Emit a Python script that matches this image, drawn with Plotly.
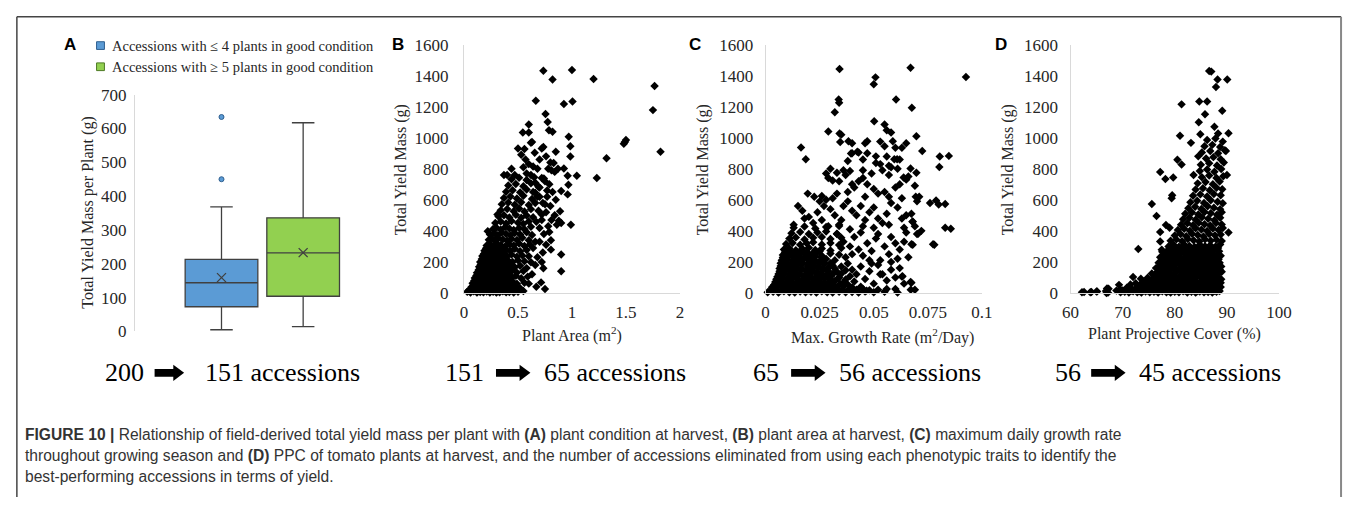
import plotly.graph_objects as go

W, H = 1357, 507

# ---------------- Panel A: yield per plant by plant condition ----------------
group_labels = ["Accessions with ≤ 4 plants in good condition",
                "Accessions with ≥ 5 plants in good condition"]
box_fill = ["#5B9BD5", "#92D050"]
box_edge = ["#2F5F8F", "#4E7A26"]
q1 = [73, 104]
median = [144, 232]
q3 = [213, 336]
lower_whisker = [5, 14]
upper_whisker = [368, 617]
group_mean = [159, 233]
outlier_group = [0, 0]
outlier_yield = [450, 634]
yield_ticks_a = [0, 100, 200, 300, 400, 500, 600, 700]

# ---------------- Panel B: plant area (m2) vs total yield mass (g) ----------------
B_PAIRS = [
    (0.735, 1432), (1.0, 1437), (0.82, 1375), (1.2, 1379), (1.765, 1333), (0.665, 1238),
    (1.005, 1234), (0.925, 1218), (0.755, 1153), (1.75, 1178), (0.775, 1102), (0.787, 1048),
    (0.82, 1038), (0.6, 1085), (0.6, 1034), (0.545, 1034), (0.63, 972), (0.62, 968),
    (0.56, 928), (0.655, 903), (0.72, 930), (0.735, 940), (0.85, 910), (0.83, 837),
    (0.8, 841), (0.925, 802), (0.97, 1007), (0.985, 945), (0.985, 879), (1.045, 755),
    (1.23, 740), (1.32, 868), (1.49, 972), (1.5, 985), (1.48, 961), (1.82, 910),
    (0.96, 755), (0.967, 697), (0.96, 635), (0.99, 440), (0.9, 657), (0.89, 527),
    (0.878, 465), (0.9, 450), (0.9, 248), (0.9, 140), (0.735, 159), (0.714, 68),
    (0.75, 25), (0.805, 339), (0.805, 279), (0.79, 393),
    (0.5, 930), (0.53, 890), (0.57, 860), (0.6, 830), (0.64, 815), (0.68, 800),
    (0.7, 860), (0.76, 880), (0.78, 800), (0.81, 790), (0.84, 780), (0.87, 800),
    (0.72, 740), (0.75, 720), (0.79, 700), (0.82, 650), (0.85, 600), (0.77, 620),
    (0.73, 580), (0.8, 560), (0.84, 500), (0.86, 440), (0.81, 470), (0.76, 520),
    (0.72, 470), (0.78, 430), (0.74, 380), (0.7, 330), (0.76, 310), (0.73, 260),
    (0.68, 230), (0.66, 180), (0.72, 200), (0.63, 120), (0.6, 60), (0.67, 40),
    (0.47, 760), (0.44, 800), (0.4, 760), (0.37, 760), (0.55, 810), (0.58, 770),
    (0.62, 760), (0.66, 710), (0.7, 680), (0.64, 650), (0.68, 620), (0.22, 397),
    (0.31, 506),
    (0.03, 8), (0.06, 3), (0.09, 10), (0.12, 2), (0.15, 6), (0.18, 4), (0.21, 9),
    (0.24, 3), (0.27, 7), (0.3, 2), (0.33, 5), (0.36, 10), (0.39, 4), (0.42, 6),
    (0.46, 3), (0.5, 8), (0.55, 12),
    (0.07, 38), (0.1, 30), (0.13, 41), (0.16, 33), (0.19, 28), (0.22, 40), (0.25, 35),
    (0.28, 30), (0.31, 42), (0.34, 36), (0.37, 29), (0.4, 39), (0.43, 33), (0.47, 44),
    (0.52, 30),
    (0.08, 62), (0.11, 70), (0.14, 66), (0.17, 58), (0.2, 72), (0.23, 64), (0.26, 60),
    (0.29, 71), (0.32, 65), (0.35, 59), (0.38, 68), (0.41, 62), (0.45, 74), (0.49, 60),
    (0.56, 66),
    (0.1, 96), (0.13, 104), (0.16, 92), (0.19, 101), (0.22, 108), (0.25, 95), (0.28, 103),
    (0.31, 98), (0.34, 107), (0.37, 93), (0.4, 102), (0.44, 97), (0.48, 110), (0.53, 94),
    (0.59, 105),
    (0.12, 130), (0.15, 138), (0.18, 127), (0.21, 141), (0.24, 133), (0.27, 128),
    (0.3, 140), (0.33, 132), (0.36, 137), (0.4, 126), (0.44, 139), (0.49, 131), (0.55, 142),
    (0.14, 168), (0.17, 160), (0.2, 174), (0.23, 165), (0.26, 172), (0.29, 161),
    (0.32, 170), (0.35, 176), (0.39, 163), (0.43, 171), (0.47, 166), (0.52, 175), (0.58, 160),
    (0.15, 200), (0.18, 209), (0.21, 198), (0.24, 212), (0.27, 203), (0.3, 196),
    (0.33, 210), (0.37, 201), (0.41, 207), (0.45, 199), (0.5, 211), (0.56, 204), (0.62, 198),
    (0.17, 238), (0.2, 244), (0.23, 233), (0.26, 247), (0.29, 240), (0.32, 231),
    (0.36, 243), (0.4, 236), (0.44, 248), (0.49, 234), (0.54, 242), (0.6, 237),
    (0.19, 272), (0.22, 280), (0.25, 268), (0.28, 283), (0.31, 274), (0.35, 266),
    (0.39, 279), (0.43, 271), (0.47, 285), (0.52, 268), (0.58, 277), (0.64, 290),
    (0.21, 306), (0.24, 315), (0.27, 302), (0.3, 318), (0.34, 309), (0.38, 300),
    (0.42, 314), (0.46, 305), (0.51, 319), (0.56, 303), (0.61, 312),
    (0.23, 342), (0.26, 350), (0.29, 338), (0.32, 353), (0.36, 345), (0.4, 336),
    (0.44, 349), (0.49, 341), (0.54, 356), (0.6, 340), (0.66, 330),
    (0.24, 377), (0.28, 385), (0.31, 372), (0.35, 389), (0.39, 380), (0.43, 371),
    (0.47, 386), (0.52, 376), (0.58, 391), (0.63, 373),
    (0.27, 412), (0.3, 420), (0.34, 408), (0.38, 424), (0.42, 415), (0.46, 405),
    (0.51, 419), (0.56, 410), (0.62, 426), (0.7, 418),
    (0.29, 450), (0.34, 460), (0.39, 447), (0.44, 463), (0.5, 452), (0.55, 445),
    (0.6, 461), (0.67, 458),
    (0.32, 492), (0.37, 500), (0.42, 486), (0.48, 503), (0.53, 484), (0.58, 499),
    (0.64, 488), (0.72, 505),
    (0.34, 532), (0.4, 541), (0.46, 527), (0.51, 544), (0.56, 525), (0.62, 540), (0.69, 529),
    (0.35, 571), (0.41, 582), (0.47, 568), (0.53, 585), (0.6, 566), (0.66, 580), (0.75, 572),
    (0.37, 612), (0.43, 622), (0.49, 608), (0.55, 626), (0.63, 605), (0.7, 620),
    (0.39, 652), (0.45, 662), (0.52, 648), (0.58, 667), (0.66, 645), (0.77, 660),
    (0.41, 692), (0.48, 702), (0.55, 688), (0.62, 706), (0.69, 684),
    (0.44, 733), (0.51, 742), (0.58, 728), (0.65, 746), (0.74, 738),
]
# densely packed low-yield accessions of panel B
B_CORE = [
    (0.045, 18), (0.075, 20), (0.105, 16), (0.135, 22), (0.165, 17), (0.195, 21),
    (0.225, 15), (0.255, 19), (0.285, 23), (0.315, 17), (0.345, 20), (0.375, 16),
    (0.405, 22), (0.435, 18), (0.48, 20),
    (0.085, 48), (0.115, 52), (0.145, 47), (0.175, 54), (0.205, 49), (0.235, 45),
    (0.265, 53), (0.295, 50), (0.325, 46), (0.355, 52), (0.385, 48), (0.415, 55), (0.445, 47),
    (0.095, 78), (0.125, 83), (0.155, 76), (0.185, 84), (0.215, 80), (0.245, 75),
    (0.275, 85), (0.305, 79), (0.335, 82), (0.365, 77), (0.395, 84), (0.425, 78),
    (0.115, 113), (0.145, 118), (0.175, 111), (0.205, 120), (0.235, 115), (0.265, 110),
    (0.295, 119), (0.325, 114), (0.355, 117), (0.385, 112), (0.42, 118),
    (0.135, 148), (0.165, 153), (0.195, 146), (0.225, 155), (0.255, 150), (0.285, 145),
    (0.315, 154), (0.345, 149), (0.375, 152), (0.41, 147),
    (0.155, 183), (0.185, 188), (0.215, 181), (0.245, 190), (0.275, 185), (0.305, 180),
    (0.335, 189), (0.365, 184), (0.395, 187),
    (0.165, 218), (0.195, 223), (0.225, 216), (0.255, 225), (0.285, 220), (0.315, 215),
    (0.345, 224), (0.38, 219),
    (0.185, 253), (0.215, 258), (0.245, 251), (0.275, 260), (0.305, 255), (0.335, 250),
    (0.37, 259),
    (0.205, 288), (0.235, 293), (0.265, 286), (0.295, 295), (0.325, 290), (0.36, 285),
]

# ---------------- Panel C: max. growth rate (m2/day) vs total yield mass (g) ----------------
C_PAIRS = [
    (0.0342, 1443), (0.067, 1451), (0.0508, 1389), (0.0926, 1391), (0.05, 1344),
    (0.0603, 1247), (0.0676, 1193), (0.0338, 1247), (0.034, 1226), (0.032, 1164),
    (0.0502, 1106), (0.029, 1040), (0.0342, 1027), (0.055, 1085), (0.056, 1048),
    (0.058, 1034), (0.0697, 1009), (0.0588, 978), (0.0383, 978), (0.0345, 972),
    (0.047, 978), (0.0164, 937), (0.0186, 862), (0.0424, 910), (0.0395, 899),
    (0.056, 879), (0.051, 837), (0.0724, 914), (0.0805, 879), (0.0847, 883),
    (0.0803, 812), (0.067, 802), (0.0595, 862), (0.0608, 862), (0.0697, 775),
    (0.0638, 744), (0.0694, 620), (0.0788, 595), (0.083, 573), (0.0856, 413),
    (0.0774, 314), (0.0705, 382), (0.0674, 314), (0.0674, 66), (0.0671, 21),
    (0.0633, 107), (0.06, 25), (0.056, 25), (0.0679, 459), (0.0674, 510),
    (0.052, 21), (0.0467, 15),
    (0.035, 1020), (0.04, 965), (0.046, 965), (0.053, 975), (0.055, 945), (0.04, 900),
    (0.043, 905), (0.047, 900), (0.051, 880), (0.045, 860), (0.038, 850), (0.06, 935),
    (0.063, 935), (0.065, 965), (0.062, 860), (0.053, 830), (0.057, 820), (0.058, 810),
    (0.061, 800), (0.036, 790), (0.033, 775), (0.03, 800), (0.028, 770), (0.039, 785),
    (0.0195, 640), (0.0225, 620), (0.026, 625), (0.028, 600), (0.029, 740), (0.031, 725),
    (0.034, 720), (0.037, 760), (0.04, 700), (0.041, 680), (0.043, 720), (0.045, 740),
    (0.047, 700), (0.05, 670), (0.052, 640), (0.055, 650), (0.057, 620), (0.06, 680),
    (0.062, 700), (0.065, 730), (0.066, 750), (0.069, 690), (0.071, 620), (0.063, 610),
    (0.046, 620), (0.038, 650), (0.033, 640), (0.031, 610), (0.025, 590), (0.049, 770),
    (0.057, 760), (0.054, 790), (0.045, 790),
    (0.015, 560), (0.017, 530), (0.02, 490), (0.022, 450), (0.024, 520), (0.027, 560),
    (0.03, 540), (0.032, 500), (0.035, 470), (0.036, 560), (0.038, 590), (0.04, 530),
    (0.042, 500), (0.044, 560), (0.046, 470), (0.048, 520), (0.05, 550), (0.052, 480),
    (0.054, 450), (0.056, 510), (0.058, 580), (0.061, 550), (0.063, 480), (0.065, 500),
    (0.068, 460), (0.07, 590), (0.069, 430), (0.072, 400), (0.076, 580), (0.08, 570),
    (0.083, 420), (0.064, 420), (0.057, 440), (0.05, 420), (0.045, 430), (0.039, 410),
    (0.034, 440), (0.029, 430), (0.026, 470), (0.018, 480), (0.013, 440),
    (0.033, 380), (0.036, 330), (0.039, 300), (0.041, 360), (0.043, 280), (0.045, 240),
    (0.047, 320), (0.049, 270), (0.051, 350), (0.053, 210), (0.055, 300), (0.057, 250),
    (0.06, 320), (0.062, 280), (0.064, 330), (0.066, 230), (0.068, 310), (0.07, 380),
    (0.078, 310), (0.044, 390), (0.048, 210), (0.052, 380), (0.058, 360), (0.061, 220),
    (0.065, 390), (0.04, 250), (0.037, 230),
    (0.038, 190), (0.04, 150), (0.042, 120), (0.044, 170), (0.046, 90), (0.048, 140),
    (0.05, 60), (0.052, 180), (0.054, 120), (0.056, 80), (0.058, 150), (0.06, 100),
    (0.062, 160), (0.064, 60), (0.067, 70), (0.069, 20), (0.063, 105), (0.053, 120),
    (0.058, 200), (0.049, 190),
    (0.001, 4), (0.0035, 8), (0.006, 2), (0.0085, 10), (0.011, 5), (0.0135, 3),
    (0.016, 9), (0.0185, 4), (0.021, 7), (0.0235, 2), (0.026, 10), (0.0285, 5),
    (0.031, 3), (0.034, 8), (0.037, 4), (0.04, 6), (0.043, 2), (0.046, 9), (0.05, 4),
    (0.055, 7), (0.061, 3),
    (0.003, 36), (0.0055, 42), (0.008, 33), (0.0105, 40), (0.013, 35), (0.0155, 44),
    (0.018, 31), (0.0205, 39), (0.023, 46), (0.0255, 34), (0.028, 41), (0.0305, 37),
    (0.033, 30), (0.036, 43), (0.04, 35), (0.044, 40),
    (0.0045, 70), (0.007, 78), (0.0095, 66), (0.012, 75), (0.0145, 69), (0.017, 80),
    (0.0195, 67), (0.022, 74), (0.0245, 79), (0.027, 65), (0.0295, 72), (0.032, 77),
    (0.036, 68), (0.041, 74),
    (0.0055, 104), (0.008, 112), (0.0105, 100), (0.013, 109), (0.0155, 115), (0.018, 102),
    (0.0205, 108), (0.023, 99), (0.0255, 113), (0.028, 105), (0.0305, 110), (0.034, 101),
    (0.039, 107),
    (0.0065, 140), (0.009, 147), (0.0115, 136), (0.014, 144), (0.0165, 151), (0.019, 138),
    (0.0215, 146), (0.024, 135), (0.0265, 149), (0.029, 141), (0.033, 137), (0.037, 146),
    (0.007, 174), (0.0095, 182), (0.012, 170), (0.0145, 179), (0.017, 186), (0.0195, 172),
    (0.022, 180), (0.0245, 169), (0.027, 184), (0.031, 176), (0.035, 171),
    (0.0075, 210), (0.01, 217), (0.0125, 205), (0.015, 214), (0.0175, 221), (0.02, 207),
    (0.0225, 215), (0.025, 204), (0.028, 219), (0.032, 211),
    (0.008, 245), (0.0105, 252), (0.013, 240), (0.0155, 249), (0.018, 256), (0.0205, 242),
    (0.023, 250), (0.026, 239), (0.03, 254), (0.034, 246),
    (0.0085, 280), (0.011, 288), (0.014, 275), (0.017, 285), (0.02, 291), (0.023, 277),
    (0.026, 286), (0.03, 274), (0.035, 289),
    (0.0095, 315), (0.0125, 322), (0.016, 310), (0.019, 320), (0.022, 326), (0.026, 312),
    (0.03, 321), (0.034, 309),
    (0.011, 350), (0.014, 358), (0.018, 345), (0.022, 355), (0.026, 361), (0.03, 347),
    (0.035, 356),
    (0.012, 385), (0.016, 393), (0.02, 380), (0.024, 390), (0.028, 396), (0.033, 382),
    (0.013, 420), (0.018, 428), (0.023, 415), (0.028, 425), (0.034, 431),
]
# densely packed slow-growing accessions of panel C
C_CORE = [
    (0.0025, 20), (0.005, 22), (0.0075, 18), (0.01, 24), (0.0125, 19), (0.015, 21),
    (0.0175, 25), (0.02, 17), (0.0225, 23), (0.025, 20), (0.0275, 18), (0.03, 24),
    (0.0325, 21), (0.0355, 19), (0.0385, 23), (0.042, 20), (0.045, 25), (0.048, 18),
    (0.004, 53), (0.0065, 57), (0.009, 52), (0.0115, 58), (0.014, 55), (0.0165, 51),
    (0.019, 57), (0.0215, 54), (0.024, 59), (0.0265, 52), (0.029, 56), (0.0315, 53),
    (0.0345, 58), (0.038, 54),
    (0.005, 88), (0.0075, 92), (0.01, 86), (0.0125, 94), (0.015, 89), (0.0175, 85),
    (0.02, 93), (0.0225, 90), (0.025, 87), (0.0275, 95), (0.03, 88), (0.0335, 92), (0.037, 86),
    (0.006, 122), (0.0085, 127), (0.011, 121), (0.0135, 129), (0.016, 124), (0.0185, 120),
    (0.021, 128), (0.0235, 123), (0.026, 126), (0.0285, 121), (0.0315, 129), (0.035, 124),
    (0.0065, 158), (0.009, 163), (0.0115, 156), (0.014, 165), (0.0165, 159), (0.019, 155),
    (0.0215, 164), (0.024, 160), (0.0265, 157), (0.029, 163), (0.032, 158),
    (0.007, 192), (0.0095, 197), (0.012, 190), (0.0145, 199), (0.017, 194), (0.0195, 189),
    (0.022, 198), (0.0245, 193), (0.027, 196), (0.03, 191),
    (0.008, 228), (0.0105, 233), (0.013, 226), (0.0155, 235), (0.018, 230), (0.0205, 225),
    (0.023, 234), (0.026, 229),
    (0.009, 262), (0.0115, 268), (0.014, 260), (0.0165, 270), (0.019, 264), (0.022, 259),
    (0.025, 268),
]

# ---------------- Panel D: plant projective cover (%) vs total yield mass (g) ----------------
D_PAIRS = [
    (86.6, 1430), (87.0, 1426), (88.2, 1375), (90.06, 1375), (87.9, 1327), (81.3, 1215),
    (84.7, 1234), (86.2, 1234), (85.8, 1151), (89.1, 1174), (84.6, 1100), (81.0, 1013),
    (84.9, 1023), (87.6, 1071), (88.3, 1027), (90.3, 1029), (89.8, 914), (90.0, 760),
    (90.3, 389), (83.1, 967), (80.5, 858), (81.3, 827), (77.2, 779), (78.2, 734),
    (79.7, 744), (79.5, 630), (79.4, 610), (75.6, 573), (77.2, 393), (76.5, 496),
    (73.0, 283), (72.0, 103), (69.3, 52), (67.3, 27), (66.9, 0), (62.6, 6), (64.0, 6),
    (65.1, 10), (77.2, 331), (78.3, 438), (79.0, 420), (77.5, 279),
    (62.2, 5), (63.8, 4), (65.0, 9), (66.8, 12), (67.2, 2), (68.8, 15), (69.6, 4),
    (70.4, 8), (71.2, 3), (72.0, 10), (72.8, 5), (73.6, 2), (74.4, 9), (75.2, 4),
    (76.0, 7), (76.8, 3), (77.6, 10), (78.4, 5), (79.2, 2), (80.0, 8), (80.8, 4),
    (81.6, 11), (82.4, 3), (83.2, 7), (84.0, 2), (84.8, 9), (85.6, 4), (86.4, 6),
    (87.2, 3), (88.0, 8), (88.6, 12),
    (67.0, 28), (69.5, 24), (70.8, 33), (71.8, 26), (72.7, 35), (73.6, 29), (74.5, 22),
    (75.4, 34), (76.3, 27), (77.2, 31), (78.1, 24), (79.0, 36), (79.9, 28), (80.8, 25),
    (81.7, 34), (82.6, 27), (83.5, 32), (84.4, 23), (85.3, 30), (86.2, 35), (87.1, 26),
    (88.0, 31), (88.8, 38),
    (71.5, 55), (72.5, 62), (73.5, 58), (74.4, 66), (75.3, 54), (76.2, 63), (77.1, 57),
    (78.0, 67), (78.9, 55), (79.8, 61), (80.7, 68), (81.6, 56), (82.5, 64), (83.4, 59),
    (84.3, 52), (85.2, 66), (86.1, 58), (87.0, 63), (87.9, 55), (88.8, 65),
    (73.5, 92), (74.8, 98), (75.8, 90), (76.7, 100), (77.6, 94), (78.5, 101), (79.4, 89),
    (80.3, 97), (81.2, 104), (82.1, 91), (83.0, 99), (83.9, 95), (84.8, 102), (85.7, 90),
    (86.6, 98), (87.5, 93), (88.4, 100), (88.9, 88),
    (75.6, 125), (76.6, 133), (77.5, 128), (78.4, 136), (79.3, 124), (80.2, 131),
    (81.1, 138), (82.0, 126), (82.9, 134), (83.8, 129), (84.7, 122), (85.6, 135),
    (86.5, 127), (87.4, 132), (88.3, 124), (89.0, 137),
    (76.4, 160), (77.3, 168), (78.2, 158), (79.1, 170), (80.0, 163), (80.9, 155),
    (81.8, 172), (82.7, 161), (83.6, 167), (84.5, 158), (85.4, 170), (86.3, 162),
    (87.2, 166), (88.1, 157), (88.9, 171),
    (76.9, 195), (77.8, 204), (78.7, 193), (79.6, 206), (80.5, 198), (81.4, 191),
    (82.3, 205), (83.2, 196), (84.1, 202), (85.0, 192), (85.9, 207), (86.8, 199),
    (87.7, 203), (88.6, 194),
    (77.2, 230), (78.1, 238), (79.0, 228), (79.9, 241), (80.8, 233), (81.7, 226),
    (82.6, 240), (83.5, 231), (84.4, 237), (85.3, 227), (86.2, 242), (87.1, 234),
    (88.0, 229), (88.8, 240),
    (77.6, 266), (78.6, 274), (79.6, 262), (80.6, 277), (81.6, 268), (82.6, 261),
    (83.6, 275), (84.6, 266), (85.6, 272), (86.6, 263), (87.6, 278), (88.5, 269),
    (78.8, 300), (79.8, 309), (80.8, 297), (81.8, 312), (82.8, 303), (83.8, 296),
    (84.8, 310), (85.8, 301), (86.8, 307), (87.8, 298), (88.7, 312),
    (79.2, 336), (80.3, 345), (81.4, 333), (82.5, 348), (83.6, 339), (84.7, 331),
    (85.8, 346), (86.9, 337), (88.0, 343), (89.0, 334),
    (80.0, 370), (81.1, 379), (82.2, 366), (83.3, 382), (84.4, 373), (85.5, 364),
    (86.6, 380), (87.7, 371), (88.8, 377),
    (80.6, 405), (81.8, 414), (82.9, 401), (84.0, 417), (85.1, 408), (86.2, 399),
    (87.3, 415), (88.4, 406), (89.2, 418),
    (81.2, 440), (82.4, 449), (83.5, 436), (84.6, 452), (85.7, 443), (86.8, 434),
    (87.9, 450), (89.0, 441),
    (81.6, 475), (82.8, 484), (84.0, 471), (85.2, 487), (86.4, 478), (87.6, 469), (88.7, 485),
    (82.0, 510), (83.3, 519), (84.5, 506), (85.7, 522), (86.9, 513), (88.1, 504), (89.0, 520),
    (82.6, 546), (83.9, 555), (85.1, 541), (86.3, 558), (87.5, 549), (88.7, 540),
    (83.0, 585), (84.3, 594), (85.6, 580), (86.9, 597), (88.2, 588), (89.2, 578),
    (83.5, 626), (84.9, 635), (86.2, 621), (87.5, 638), (88.8, 629),
    (84.0, 666), (85.4, 675), (86.7, 661), (88.0, 678), (89.1, 668),
    (84.4, 706), (85.9, 715), (87.3, 701), (88.6, 718),
    (83.6, 760), (85.2, 745), (86.6, 756), (88.0, 741), (89.3, 752),
    (84.8, 786), (86.2, 795), (87.6, 781), (88.9, 798),
    (85.0, 826), (86.6, 835), (88.1, 821), (89.4, 840),
    (84.5, 880), (86.0, 866), (87.4, 875), (88.8, 862),
    (85.2, 905), (86.8, 914), (88.3, 900), (89.6, 920),
    (85.7, 945), (87.2, 954), (88.7, 940),
    (86.2, 985), (87.8, 995), (89.2, 975),
]
# densely packed low-yield accessions of panel D
D_CORE = [
    (70.0, 16), (71.6, 14), (72.4, 18), (73.2, 13), (74.0, 17), (74.8, 15), (75.6, 19),
    (76.4, 14), (77.2, 16), (78.0, 18), (78.8, 13), (79.6, 17), (80.4, 15), (81.2, 19),
    (82.0, 14), (82.8, 16), (83.6, 18), (84.4, 13), (85.2, 17), (86.0, 15), (86.8, 19),
    (87.6, 14), (88.4, 17),
    (73.0, 44), (74.0, 47), (74.9, 42), (75.8, 48), (76.7, 45), (77.6, 41), (78.5, 47),
    (79.4, 44), (80.3, 49), (81.2, 42), (82.1, 46), (83.0, 43), (83.9, 48), (84.8, 44),
    (85.7, 41), (86.6, 47), (87.5, 43), (88.4, 46),
    (74.0, 73), (75.0, 78), (76.0, 72), (76.9, 79), (77.8, 74), (78.7, 71), (79.6, 77),
    (80.5, 75), (81.4, 80), (82.3, 72), (83.2, 78), (84.1, 74), (85.0, 71), (85.9, 77),
    (86.8, 73), (87.7, 79), (88.5, 75),
    (76.0, 110), (77.0, 114), (78.0, 109), (79.0, 116), (80.0, 111), (81.0, 108),
    (82.0, 115), (83.0, 112), (84.0, 117), (85.0, 109), (86.0, 114), (87.0, 110), (88.0, 116),
    (77.0, 146), (78.0, 150), (79.0, 144), (80.0, 152), (81.0, 147), (82.0, 143),
    (83.0, 151), (84.0, 148), (85.0, 145), (86.0, 150), (87.0, 144), (88.0, 152), (88.7, 147),
    (77.3, 180), (78.2, 185), (79.1, 178), (80.0, 187), (80.9, 181), (81.8, 177),
    (82.7, 186), (83.6, 182), (84.5, 179), (85.4, 184), (86.3, 178), (87.2, 186), (88.2, 181),
    (77.6, 216), (78.5, 221), (79.4, 214), (80.3, 222), (81.2, 217), (82.1, 213),
    (83.0, 221), (83.9, 218), (84.8, 215), (85.7, 220), (86.6, 214), (87.5, 222), (88.4, 217),
    (78.1, 250), (79.1, 255), (80.1, 248), (81.1, 257), (82.1, 251), (83.1, 247),
    (84.1, 256), (85.1, 252), (86.1, 249), (87.1, 254), (88.1, 248),
    (79.3, 285), (80.3, 290), (81.3, 283), (82.3, 292), (83.3, 286), (84.3, 282),
    (85.3, 291), (86.3, 287), (87.3, 284), (88.3, 289),
]

plant_area, yield_b = zip(*(B_PAIRS + B_CORE))
growth_rate, yield_c = zip(*(C_PAIRS + C_CORE))
projective_cover, yield_d = zip(*(D_PAIRS + D_CORE))

yield_ticks = [0, 200, 400, 600, 800, 1000, 1200, 1400, 1600]
area_ticks = [0, 0.5, 1, 1.5, 2]
rate_ticks = [0, 0.025, 0.05, 0.075, 0.1]
cover_ticks = [60, 70, 80, 90, 100]

# accession counts remaining after each screening step
accession_flow = [(200, 151), (151, 65), (65, 56), (56, 45)]


# ---------------- helpers: pixels -> paper fractions ----------------
def fx(px):
    return px / W


def fy(py):
    return 1 - py / H


SERIF = "Liberation Serif"
SANS = "Liberation Sans"
TXT = "#262626"
AXIS_LINE = "#d9d9d9"

fig = go.Figure()

# Panel A boxes
for i in range(2):
    fig.add_trace(go.Box(
        x=[i], q1=[q1[i]], median=[median[i]], q3=[q3[i]],
        lowerfence=[lower_whisker[i]], upperfence=[upper_whisker[i]],
        orientation="v", width=0.89, whiskerwidth=0.31,
        fillcolor=box_fill[i], line=dict(color="#404040", width=1.3),
        boxpoints=False, showlegend=False, xaxis="x", yaxis="y",
        hoverinfo="skip",
    ))
fig.add_trace(go.Scatter(
    x=[0, 1], y=group_mean, mode="markers", xaxis="x", yaxis="y",
    marker=dict(symbol="x-thin", size=9, line=dict(color="#404040", width=1.3)),
    showlegend=False, hoverinfo="skip",
))
fig.add_trace(go.Scatter(
    x=outlier_group, y=outlier_yield, mode="markers", xaxis="x", yaxis="y",
    marker=dict(symbol="circle", size=5, color=box_fill[0],
                line=dict(color="#2F5F8F", width=1)),
    showlegend=False, hoverinfo="skip",
))

scatter_marker = dict(symbol="diamond", size=6.5, color="black")
for xs, ys, xa, ya in [(plant_area, yield_b, "x2", "y2"),
                       (growth_rate, yield_c, "x3", "y3"),
                       (projective_cover, yield_d, "x4", "y4")]:
    fig.add_trace(go.Scatter(
        x=list(xs), y=list(ys), mode="markers", xaxis=xa, yaxis=ya,
        marker=scatter_marker, cliponaxis=False, showlegend=False, hoverinfo="skip",
    ))

tickfont = dict(family=SERIF, size=17, color=TXT)


def yaxis_cfg(top, bottom, rng, ticks, anchor, standoff):
    return dict(domain=[fy(bottom), fy(top)], range=rng, tickvals=ticks,
                ticktext=[str(t) for t in ticks], showgrid=False, zeroline=False,
                showline=True, linecolor=AXIS_LINE, linewidth=1, ticks="",
                tickfont=tickfont, anchor=anchor, ticklabelstandoff=standoff,
                fixedrange=True)


def xaxis_cfg(left, right, rng, ticks, labels, anchor):
    return dict(domain=[fx(left), fx(right)], range=rng, tickvals=ticks,
                ticktext=labels, showgrid=False, zeroline=False, showline=True,
                linecolor=AXIS_LINE, linewidth=1, ticks="", tickfont=tickfont,
                anchor=anchor, ticklabelstandoff=4, fixedrange=True)


layout = dict(
    width=W, height=H, margin=dict(l=0, r=0, t=0, b=0),
    paper_bgcolor="white", plot_bgcolor="white", showlegend=False,
    xaxis=dict(domain=[fx(128), fx(387)], range=[-1.06, 2.06], visible=False,
               anchor="y", fixedrange=True),
    yaxis=yaxis_cfg(89, 335, [0, 700], yield_ticks_a, "x", 4),
    xaxis2=xaxis_cfg(462.5, 682, [0, 2], area_ticks, ["0", "0.5", "1", "1.5", "2"], "y2"),
    yaxis2=yaxis_cfg(37, 295, [0, 1600], yield_ticks, "x2", 11),
    xaxis3=xaxis_cfg(769, 989, [0, 0.1], rate_ticks, ["0", "0.025", "0.05", "0.075", "0.1"], "y3"),
    yaxis3=yaxis_cfg(37, 295, [0, 1600], yield_ticks, "x3", 8),
    xaxis4=xaxis_cfg(1079, 1291, [60, 100], cover_ticks, [str(t) for t in cover_ticks], "y4"),
    yaxis4=yaxis_cfg(37, 295, [0, 1600], yield_ticks, "x4", 8),
)
fig.update_layout(**layout)

annotations = []
shapes = []


def ann(text, x, y, size, family=SERIF, xanchor="center", angle=0, color=TXT):
    annotations.append(dict(
        text=text, x=fx(x), y=fy(y), xref="paper", yref="paper", showarrow=False,
        xanchor=xanchor, yanchor="middle", textangle=angle,
        font=dict(family=family, size=size, color=color),
    ))


# panel letters
for letter, x in [("A", 62), ("B", 395), ("C", 697), ("D", 1008)]:
    ann(f"<b>{letter}</b>", x, 37, 17, family=SANS, color="black")

# panel A legend
for i, yc in enumerate([38, 60]):
    shapes.append(dict(type="rect", xref="paper", yref="paper",
                       x0=fx(89), x1=fx(97), y0=fy(yc + 4), y1=fy(yc - 4),
                       fillcolor=box_fill[i], line=dict(color=box_edge[i], width=1)))
    ann(group_labels[i], 103, yc, 14.5, xanchor="left")

# axis titles
ann("Total Yield Mass per Plant (g)", 80, 212, 16, angle=-90)
for xc in [398, 705, 1015]:
    ann("Total Yield Mass (g)", xc, 167, 16, angle=-90)
ann("Plant Area (m<sup>2</sup>)", 572, 338, 16)
ann("Max. Growth Rate (m<sup>2</sup>/Day)", 888, 340, 16)
ann("Plant Projective Cover (%)", 1185, 338, 16)

# accession screening flow under each panel
flow_pos = [(139, 148, 178, 197), (485, 495, 530, 542),
            (785, 795, 830, 842), (1092, 1100, 1135, 1147)]
FLOW_Y = 378
for (before, after), (x_num, a0, a1, x_txt) in zip(accession_flow, flow_pos):
    ann(str(before), x_num, FLOW_Y, 26, xanchor="right", color="black")
    ann(f"{after} accessions", x_txt, FLOW_Y, 26, xanchor="left", color="black")
    hx = a1 - 11
    pts = [(a0, FLOW_Y - 4), (hx, FLOW_Y - 4), (hx, FLOW_Y - 8.5), (a1, FLOW_Y),
           (hx, FLOW_Y + 8.5), (hx, FLOW_Y + 4), (a0, FLOW_Y + 4)]
    path = "M " + " L ".join(f"{fx(px):.5f},{fy(py):.5f}" for px, py in pts) + " Z"
    shapes.append(dict(type="path", xref="paper", yref="paper", path=path,
                       fillcolor="black", line=dict(color="black", width=0)))

# figure caption
caption = [
    "<b>FIGURE 10 |</b> Relationship of field-derived total yield mass per plant with "
    "<b>(A)</b> plant condition at harvest, <b>(B)</b> plant area at harvest, "
    "<b>(C)</b> maximum daily growth rate",
    "throughout growing season and <b>(D)</b> PPC of tomato plants at harvest, and the "
    "number of accessions eliminated from using each phenotypic traits to identify the",
    "best-performing accessions in terms of yield.",
]
for line, yc in zip(caption, [442, 464, 486]):
    ann(line, 14, yc, 15.6, family=SANS, xanchor="left", color="#333333")

# outer frame (top, left, right)
for (x0, y0, x1, y1, col, w) in [(8, 8, 1354, 8, "#444444", 1.5),
                                 (8, 8, 8, 507, "#444444", 1.5),
                                 (1354, 8, 1354, 507, "#888888", 2)]:
    shapes.append(dict(type="line", xref="paper", yref="paper",
                       x0=fx(x0), y0=fy(y0), x1=fx(x1), y1=fy(y1),
                       line=dict(color=col, width=w)))

fig.update_layout(annotations=annotations, shapes=shapes)
fig.write_html("out.html")
